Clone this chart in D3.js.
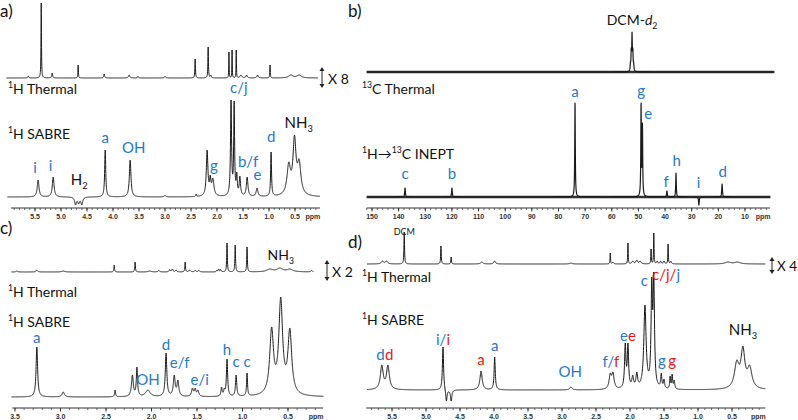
<!DOCTYPE html>
<html><head><meta charset="utf-8">
<script src="https://cdn.jsdelivr.net/npm/d3@7/dist/d3.min.js"></script>
<style>
html,body{margin:0;padding:0;background:#fff;}
svg{display:block;}
</style></head>
<body>
<svg id="fig" width="798" height="420"></svg>
<script>
// ================= DATA =================
// axis tick labels (ppm)
const ticksA = [5.5,5.0,4.5,4.0,3.5,3.0,2.5,2.0,1.5,1.0,0.5];
const ticksB = [150,140,130,120,110,100,90,80,70,60,50,40,30,20,10];
const ticksC = [3.5,3.0,2.5,2.0,1.5,1.0,0.5];
const ticksD = [5.5,5.0,4.5,4.0,3.5,3.0,2.5,2.0,1.5,1.0,0.5];

// peaks: [chemical shift (ppm), observed intensity, half-width (ppm)]
const aThermalPeaks = [
  [5.63,2,0.01],[5.38,75,0.005],[5.17,5,0.01],[4.67,13,0.005],[4.17,4,0.01],
  [3.69,3,0.015],[3.52,1.5,0.01],[3.0,1.5,0.015],[2.42,19,0.006],[2.17,31,0.006],
  [2.12,3,0.01],[1.77,26,0.004],[1.71,28,0.004],[1.63,28,0.004],[1.54,3,0.02],
  [1.43,3,0.015],[1.22,3,0.015],[0.98,13,0.005],[0.58,3,0.05],[0.42,3,0.05]
];
const aSabrePeaks = [
  [5.44,17,0.02],[5.15,20,0.02],[4.72,-8,0.02],[4.66,-7,0.02],[4.60,-8,0.02],
  [4.15,47,0.012],[3.67,37,0.018],[3.0,1.5,0.02],[2.4,3,0.008],[2.19,47,0.018],
  [2.13,22,0.015],[2.08,19,0.025],[1.73,97,0.012],[1.67,96,0.010],[1.62,25,0.012],
  [1.56,21,0.015],[1.42,20,0.018],[1.23,9,0.02],[0.96,45,0.01],
  [0.62,35,0.04],[0.51,62,0.035],[0.42,38,0.04]
];
const bThermalPeaks = [
  [53.0,10,0.12],[52.7,24,0.12],[52.4,40,0.12],[52.1,24,0.12],[51.8,10,0.12]
];
const bIneptPeaks = [
  [137.6,9,0.15],[120.0,9,0.15],[73.8,94,0.12],[49.0,94,0.12],[48.5,74,0.12],
  [39.3,6,0.15],[35.9,24,0.12],[27.3,-8,0.15],[18.6,13,0.15]
];
const cThermalPeaks = [
  [3.48,1,0.01],[3.26,2,0.01],[2.97,1,0.02],[2.41,7,0.004],[2.18,10,0.004],
  [2.02,1,0.02],[1.92,1.5,0.01],[1.80,2.5,0.008],[1.77,3,0.008],[1.73,2,0.008],
  [1.63,10,0.004],[1.58,2,0.01],[1.52,1.5,0.01],[1.48,1.5,0.01],[1.28,2,0.006],
  [1.26,3,0.006],[1.24,2.5,0.006],[1.17,29,0.004],[1.08,27,0.004],[0.95,25,0.004],
  [0.70,3,0.04],[0.59,4,0.04],[0.48,3,0.04],[0.24,1.5,0.01]
];
const cSabrePeaks = [
  [3.26,50,0.01],[2.97,5,0.015],[2.40,7,0.006],[2.21,22,0.012],[2.16,30,0.008],
  [2.04,7,0.03],[1.84,44,0.01],[1.75,22,0.012],[1.71,17,0.012],[1.55,9,0.012],
  [1.52,9,0.01],[1.49,7,0.012],[1.23,10,0.008],[1.20,9,0.008],[1.17,38,0.008],
  [1.07,22,0.008],[0.95,24,0.006],[0.68,70,0.025],[0.58,100,0.025],[0.48,69,0.025]
];
const dThermalPeaks = [
  [5.64,3,0.02],[5.58,3,0.02],[5.32,32,0.005],[4.78,18,0.005],[4.63,7,0.005],
  [4.18,2,0.02],[3.99,3,0.015],[2.87,1,0.02],[2.29,11,0.004],[2.25,2,0.01],
  [2.03,21,0.004],[1.96,3,0.015],[1.90,4,0.015],[1.85,3,0.015],[1.69,15,0.004],
  [1.65,31,0.004],[1.60,3,0.01],[1.55,3,0.01],[1.50,3,0.01],[1.44,20,0.004],
  [1.40,3,0.01],[0.56,2,0.05],[0.42,2,0.05]
];
const dSabrePeaks = [
  [5.65,25,0.025],[5.56,25,0.025],[4.75,43,0.01],[4.70,-11,0.012],[4.63,-11,0.012],
  [4.19,19,0.02],[3.99,33,0.01],[2.87,3,0.02],[2.29,17,0.02],[2.25,18,0.02],
  [2.07,47,0.012],[2.03,47,0.012],[1.96,15,0.015],[1.90,18,0.015],[1.78,85,0.02],
  [1.68,113,0.012],[1.65,118,0.012],[1.54,17,0.01],[1.50,11,0.01],[1.41,14,0.008],
  [1.38,16,0.008],[1.35,10,0.01],[0.43,30,0.04],[0.34,44,0.035],[0.24,25,0.04]
];

// peak labels: [text, shift (ppm), intensity at text baseline]
// {1} = complex species (blue), {2} = second species (red), {0} = other (black)
const aSabreLabels = [
  ["{1}i",5.50,24],["{1}i",5.20,26],["{0}H_{2}",4.65,12],["{1}a",4.15,54],
  ["{1}OH",3.60,44],["{1}g",2.06,26],["{1}c/j",1.58,104],["{1}b/f",1.40,30],
  ["{1}e",1.22,17],["{1}d",0.96,55],["{0}NH_{3}",0.43,69]
];
const bIneptLabels = [
  ["{1}c",137.6,18],["{1}b",120.0,18],["{1}a",73.8,100],["{1}g",49.0,101],
  ["{1}e",46.3,78],["{1}h",35.6,31],["{1}f",39.6,10],["{1}i",27.4,9],["{1}d",18.4,20]
];
const cSabreLabels = [
  ["{1}a",3.26,54],["{1}OH",2.04,12],["{1}d",1.84,47],["{1}e/f",1.69,29],
  ["{1}e/i",1.47,12],["{1}h",1.17,42],["{1}c",1.07,30],["{1}c",0.95,30]
];
const cThermalLabels = [["{0}NH_{3}",0.58,12]];
const dSabreLabels = [
  ["{1}d",5.67,30],["{2}d",5.54,30],["{1}i/{2}i",4.75,45],["{2}a",4.19,25],
  ["{1}a",3.99,39],["{1}OH",2.88,13],["{1}f/{2}f",2.28,23],["{1}e{2}e",2.03,49],
  ["{1}c",1.79,104],["{2}c/j/{1}j",1.47,110],["{1}g",1.53,24],["{2}g",1.38,24],
  ["{0}NH_{3}",0.34,55]
];

// ================= DRAWING =================
const COLORS = ["#111111", "#1f7ac9", "#f01414"];
const FONT = "Lato, 'Open Sans', 'Noto Sans', sans-serif";
const svg = d3.select("#fig");

function lor(d, w) { const r = d / w; return 1 / (1 + r * r); }

// amplitudes so that the summed curve matches observed heights at each peak centre
function amplitudes(peaks) {
  const n = peaks.length;
  const M = peaks.map(pi => peaks.map(pj => lor(pi[0] - pj[0], pj[2])));
  const b = peaks.map(p => p[1]);
  for (let i = 0; i < n; i++) {
    let piv = i;
    for (let k = i + 1; k < n; k++) if (Math.abs(M[k][i]) > Math.abs(M[piv][i])) piv = k;
    [M[i], M[piv]] = [M[piv], M[i]]; [b[i], b[piv]] = [b[piv], b[i]];
    for (let k = i + 1; k < n; k++) {
      const f = M[k][i] / M[i][i];
      for (let j = i; j < n; j++) M[k][j] -= f * M[i][j];
      b[k] -= f * b[i];
    }
  }
  const a = new Array(n).fill(0);
  for (let i = n - 1; i >= 0; i--) {
    let s = b[i];
    for (let j = i + 1; j < n; j++) s -= M[i][j] * a[j];
    a[i] = s / M[i][i];
  }
  return a;
}

function spectrum(peaks, pFrom, pTo, step) {
  const amps = amplitudes(peaks);
  let ps = d3.range(pTo, pFrom, step).concat(peaks.map(p => p[0]).filter(p => p <= pFrom && p >= pTo));
  ps.sort((u, v) => v - u);
  return ps.map(p => {
    let y = 0;
    peaks.forEach((pk, i) => { y += amps[i] * lor(p - pk[0], pk[2]); });
    return [p, y];
  });
}

function drawTrace(x, y, pts, sw) {
  const line = d3.line().x(d => x(d[0])).y(d => y(d[1]));
  svg.append("path").attr("d", line(pts)).attr("fill", "none")
    .attr("stroke", "#1a1a1a").attr("stroke-width", sw || 1).attr("stroke-linejoin", "round");
}

function rich(textSel, str, fs, col0) {
  const re = /\{(\d)\}|\^\{([^}]*)\}|_\{([^}]*)\}|\*([^*]*)\*|([^{^_*]+)/g;
  let m, col = col0, off = 0;
  while ((m = re.exec(str)) !== null) {
    if (m[1] !== undefined) { col = COLORS[+m[1]]; continue; }
    const t = textSel.append("tspan").attr("fill", col);
    let target = 0, txt;
    if (m[2] !== undefined) { txt = m[2]; target = -0.4 * fs; t.attr("font-size", 0.62 * fs); }
    else if (m[3] !== undefined) { txt = m[3]; target = 0.25 * fs; t.attr("font-size", 0.62 * fs); }
    else if (m[4] !== undefined) { txt = m[4]; t.attr("font-style", "italic"); }
    else txt = m[5];
    t.attr("dy", target - off).text(txt);
    off = target;
  }
}

function text(str, x, y, fs, anchor, col) {
  const t = svg.append("text").attr("x", x).attr("y", y).attr("font-family", FONT)
    .attr("font-size", fs).attr("text-anchor", anchor || "start");
  rich(t, str, fs, col || COLORS[0]);
  return t;
}

function labels(list, x, y, fs) {
  list.forEach(l => text(l[0], x(l[1]), y(l[2]), fs, "middle"));
}

function axis(x, yPos, pLeft, pRight, major, minorStep, fmt) {
  const g = svg.append("g").attr("transform", `translate(0,${yPos})`);
  const x0 = x(pLeft), x1 = x(pRight);
  g.append("line").attr("x1", x0).attr("x2", x1).attr("stroke", "#333").attr("stroke-width", 1);
  const lo = Math.min(pLeft, pRight), hi = Math.max(pLeft, pRight);
  const minor = d3.range(Math.ceil(lo / minorStep - 1e-6), Math.floor(hi / minorStep + 1e-6) + 1).map(k => k * minorStep);
  g.selectAll("line.mi").data(minor).enter().append("line")
    .attr("x1", d => x(d)).attr("x2", d => x(d)).attr("y1", 0).attr("y2", 2)
    .attr("stroke", "#444").attr("stroke-width", 0.8);
  g.selectAll("line.ma").data(major).enter().append("line")
    .attr("x1", d => x(d)).attr("x2", d => x(d)).attr("y1", 0).attr("y2", 3.5)
    .attr("stroke", "#333").attr("stroke-width", 1);
  g.selectAll("text.tl").data(major).enter().append("text")
    .attr("x", d => x(d)).attr("y", 10.5).attr("text-anchor", "middle")
    .attr("font-family", "'Liberation Sans', Arial, sans-serif").attr("font-weight", "bold")
    .attr("font-size", 7).attr("fill", "#333").text(fmt);
  g.append("text").attr("x", x1 - 7).attr("y", 10.5).attr("text-anchor", "middle")
    .attr("font-family", "'Liberation Sans', Arial, sans-serif").attr("font-weight", "bold")
    .attr("font-size", 7).attr("fill", "#333").text("ppm");
}

function scaleArrow(xp, y0, y1) {
  svg.append("line").attr("x1", xp).attr("x2", xp).attr("y1", y0 + 2).attr("y2", y1 - 2)
    .attr("stroke", "#222").attr("stroke-width", 1);
  svg.append("path").attr("d", `M${xp - 2.5},${y0 + 4}L${xp},${y0}L${xp + 2.5},${y0 + 4}Z`).attr("fill", "#222");
  svg.append("path").attr("d", `M${xp - 2.5},${y1 - 4}L${xp},${y1}L${xp + 2.5},${y1 - 4}Z`).attr("fill", "#222");
}

const f1 = d3.format(".1f"), f0 = d3.format("d");
const mkX = (p0, x0, p1, x1) => d3.scaleLinear().domain([p0, p1]).range([x0, x1]);
const mkY = base => d3.scaleLinear().domain([0, 100]).range([base, base - 100]);

// ---------- panel a ----------
const xA = mkX(5.5, 35, 0.5, 295);
const yAT = mkY(78), yAS = mkY(197);
drawTrace(xA, yAT, spectrum(aThermalPeaks, 6.05, 0.06, 0.002));
drawTrace(xA, yAS, spectrum(aSabrePeaks, 6.03, 0.02, 0.002));
axis(xA, 208, 5.96, 0.02, ticksA, 0.1, f1);
labels(aSabreLabels, xA, yAS, 15);
text("a)", 0, 17, 17, "start");
text("^{1}H Thermal", 8, 94, 14);
text("^{1}H SABRE", 8, 139, 14);
scaleArrow(322, 67, 88);
text("X 8", 328, 84, 14);

// ---------- panel b ----------
const xB = mkX(150, 372, 10, 745);
const yBT = mkY(72), yBI = mkY(197);
svg.append("line").attr("x1", xB(152)).attr("x2", xB(-1)).attr("y1", yBT(0)).attr("y2", yBT(0))
  .attr("stroke", "#333").attr("stroke-width", 2.6);
svg.append("line").attr("x1", xB(152)).attr("x2", xB(0.5)).attr("y1", yBI(0)).attr("y2", yBI(0))
  .attr("stroke", "#333").attr("stroke-width", 2.6);
drawTrace(xB, yBT, spectrum(bThermalPeaks, 152, -1, 0.02), 1.2);
drawTrace(xB, yBI, spectrum(bIneptPeaks, 152, 0.5, 0.02), 1.2);
axis(xB, 208, 152, 0.6, ticksB, 2, f0);
labels(bIneptLabels, xB, yBI, 15);
text("b)", 348, 17, 17, "start");
text("DCM-*d*_{2}", xB(52.4), 25, 14, "middle");
text("^{13}C Thermal", 362, 94, 14);
text("^{1}H\u2192^{13}C INEPT", 362, 159, 14);

// ---------- panel c ----------
const xC = mkX(3.5, 15, 0.5, 288);
const yCT = mkY(272), yCS = mkY(397);
drawTrace(xC, yCT, spectrum(cThermalPeaks, 3.54, 0.22, 0.001));
drawTrace(xC, yCS, spectrum(cSabrePeaks, 3.54, 0.11, 0.001));
axis(xC, 408, 3.53, 0.115, ticksC, 0.1, f1);
labels(cSabreLabels, xC, yCS, 15);
labels(cThermalLabels, xC, yCT, 14);
text("c)", 0, 234, 17, "start");
text("^{1}H Thermal", 8, 297, 14);
text("^{1}H SABRE", 8, 327, 14);
scaleArrow(327, 260, 281);
text("X 2", 332, 277, 14);

// ---------- panel d ----------
const xD = mkX(5.5, 392, 0.5, 732);
const yDT = mkY(264), yDS = mkY(390);
drawTrace(xD, yDT, spectrum(dThermalPeaks, 5.87, 0.01, 0.002));
drawTrace(xD, yDS, spectrum(dSabrePeaks, 5.87, 0.01, 0.002));
axis(xD, 408, 5.88, 0.01, ticksD, 0.1, f1);
labels(dSabreLabels, xD, yDS, 15);
text("DCM", xD(5.32), 235, 9, "middle");
text("d)", 348, 248, 17, "start");
text("^{1}H Thermal", 362, 282, 14);
text("^{1}H SABRE", 362, 325, 14);
scaleArrow(772, 257, 274);
text("X 4", 777, 271, 13.5);
</script>
</body></html>
